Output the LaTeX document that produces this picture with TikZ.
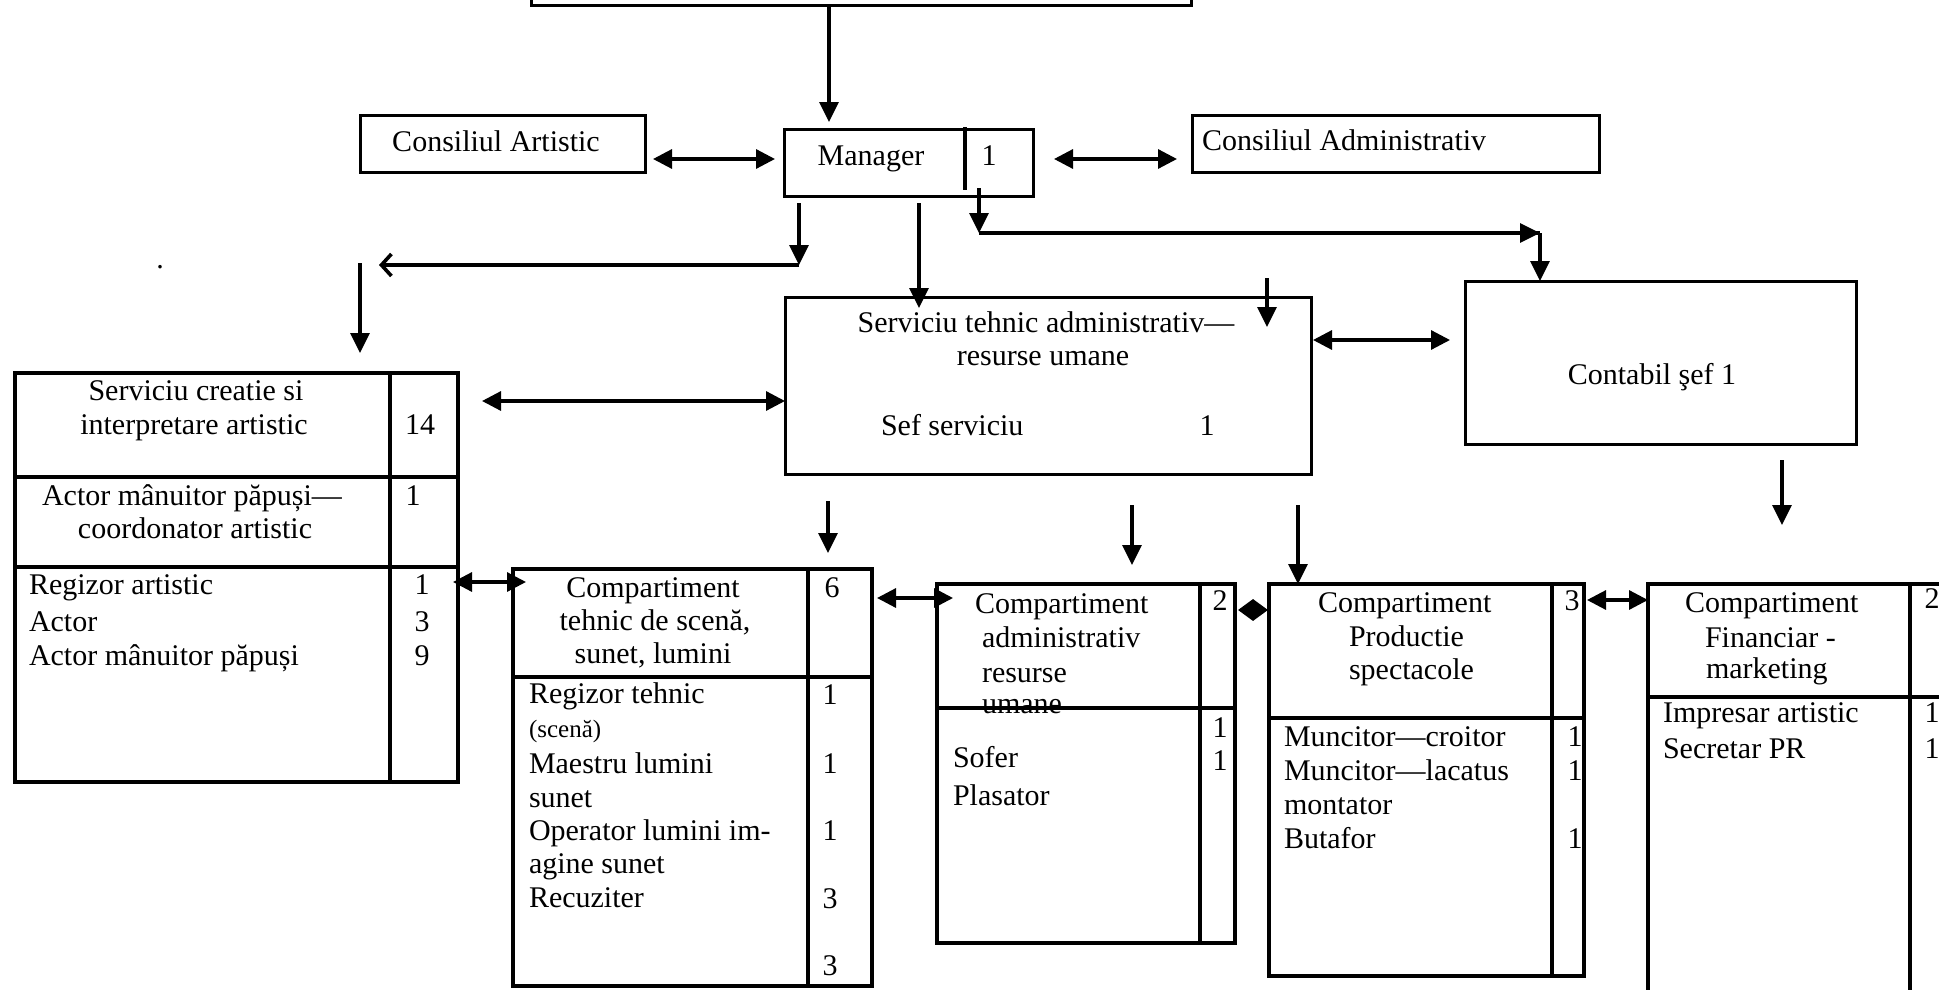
\documentclass[tikz,border=0pt]{standalone}
\usepackage{fontspec}
\setmainfont{Liberation Serif}
\usetikzlibrary{arrows.meta}
\newcommand{\dfont}{\fontsize{30}{34}\selectfont}
\newcommand{\sfont}{\fontsize{25}{28}\selectfont}
\begin{document}
\begin{tikzpicture}[x=1pt,y=-1pt,
  every node/.style={inner sep=0pt, outer sep=0pt},
  box/.style={draw, line width=3pt, rectangle, anchor=north west},
  tbox/.style={draw, line width=4.6pt, rectangle, anchor=north west},
  tline/.style={line width=4.6pt},
  txt/.style={font=\dfont, anchor=base},
  txtl/.style={font=\dfont, anchor=base west},
  conn/.style={line width=3.2pt},
  arr/.style={conn, -{Triangle[length=20pt,width=19pt]}},
  darr/.style={conn, {Triangle[length=19pt,width=19pt]}-{Triangle[length=19pt,width=19pt]}},
  sarr/.style={conn, {Triangle[length=15pt,width=21pt]}-{Triangle[length=15pt,width=21pt]}},
  oarr/.style={line width=3.6pt, -{Straight Barb[length=10pt,width=22pt]}},
]
\useasboundingbox (0,0) rectangle (1939,990);
\clip (0,0) rectangle (1939,990);

% ---------- upper boxes ----------
\node[box, minimum width=660pt, minimum height=60pt, anchor=south west] (top) at (531,6) {};

\node[box, minimum width=285pt, minimum height=57pt] (ca) at (360,115) {};
\node[txt] (catxt) at (496,151) {Consiliul Artistic};

\node[box, minimum width=249pt, minimum height=67pt] (mgr) at (784,129) {};
\node[txt] (mgrtxt) at (871,165) {Manager};
\node[txt] (mgrn) at (989,165) {1};
\coordinate (mdiv1) at (965,127);
\coordinate (mdiv2) at (965,190);
\draw[conn] (mdiv1) -- (mdiv2);

\node[box, minimum width=407pt, minimum height=57pt] (cadm) at (1192,115) {};
\node[txtl] (cadmtxt) at (1202,150) {Consiliul Administrativ};

\node[box, minimum width=526pt, minimum height=177pt] (sta) at (785,297) {};
\node[txt] (sta1) at (1046,332) {Serviciu tehnic administrativ—};
\node[txt] (sta2) at (1043,365) {resurse umane};
\node[txtl] (sta3) at (881,435) {Sef serviciu};
\node[txt] (sta4) at (1207,435) {1};

\node[box, minimum width=391pt, minimum height=163pt] (csef) at (1465,281) {};
\node[txt] (cseftxt) at (1652,384) {Contabil şef 1};

\node[txt] (dot) at (160,268) {.};

% ---------- Serviciu creatie ----------
\node[tbox, minimum width=443pt, minimum height=409pt] (sci) at (15,373) {};
\draw[tline] (390,373) -- (390,782);
\draw[tline] (15,477) -- (458,477);
\draw[tline] (15,567) -- (458,567);
\node[txt] (sci1) at (196,400) {Serviciu creatie si};
\node[txt] (sci2) at (194,434) {interpretare artistic};
\node[txt] (sci3) at (420,434) {14};
\node[txt] (sci4) at (192,505) {Actor mânuitor păpuși—};
\node[txt] (sci5) at (195,538) {coordonator artistic};
\node[txt] (sci6) at (413,505) {1};
\node[txtl] (sci7) at (29,594) {Regizor artistic};
\node[txtl] (sci8) at (29,631) {Actor};
\node[txtl] (sci9) at (29,665) {Actor mânuitor păpuși};
\node[txt] (sci10) at (422,594) {1};
\node[txt] (sci11) at (422,631) {3};
\node[txt] (sci12) at (422,665) {9};

% ---------- Compartiment tehnic ----------
\node[tbox, minimum width=359pt, minimum height=417pt] (cts) at (513,569) {};
\draw[tline] (808,569) -- (808,986);
\draw[tline] (513,677) -- (872,677);
\node[txt] (cts1) at (653,597) {Compartiment};
\node[txt] (cts2) at (655,630) {tehnic de scenă,};
\node[txt] (cts3) at (653,663) {sunet, lumini};
\node[txt] (cts4) at (832,597) {6};
\node[txtl] (cts5) at (529,703) {Regizor tehnic};
\node[anchor=base west, font=\sfont] (cts6) at (529,737) {(scenă)};
\node[txtl] (cts7) at (529,773) {Maestru lumini};
\node[txtl] (cts8) at (529,807) {sunet};
\node[txtl] (cts9) at (529,840) {Operator lumini im-};
\node[txtl] (cts10) at (529,873) {agine sunet};
\node[txtl] (cts11) at (529,907) {Recuziter};
\node[txt] (cts12) at (830,704) {1};
\node[txt] (cts13) at (830,773) {1};
\node[txt] (cts14) at (830,840) {1};
\node[txt] (cts15) at (830,908) {3};
\node[txt] (cts16) at (830,975) {3};

% ---------- Compartiment administrativ ----------
\node[tbox, minimum width=298pt, minimum height=359pt] (car) at (937,584) {};
\draw[tline] (1200,584) -- (1200,943);
\node[txtl] (car1) at (975,613) {Compartiment};
\node[txtl] (car2) at (982,647) {administrativ};
\node[txtl] (car3) at (982,682) {resurse};
\node[txtl] (car4) at (982,713) {umane};
\draw[tline] (937,708) -- (1235,708);
\node[txt] (car5) at (1220,610) {2};
\node[txt] (car6) at (1220,737) {1};
\node[txt] (car7) at (1220,770) {1};
\node[txtl] (car8) at (953,767) {Sofer};
\node[txtl] (car9) at (953,805) {Plasator};

% ---------- Compartiment productie ----------
\node[tbox, minimum width=315pt, minimum height=392pt] (cps) at (1269,584) {};
\draw[tline] (1552,584) -- (1552,976);
\draw[tline] (1269,718) -- (1584,718);
\node[txtl] (cps1) at (1318,612) {Compartiment};
\node[txtl] (cps2) at (1349,646) {Productie};
\node[txtl] (cps3) at (1349,679) {spectacole};
\node[txt] (cps4) at (1572,610) {3};
\node[txtl] (cps5) at (1284,746) {Muncitor—croitor};
\node[txtl] (cps6) at (1284,780) {Muncitor—lacatus};
\node[txtl] (cps7) at (1284,814) {montator};
\node[txtl] (cps8) at (1284,848) {Butafor};
\node[txt] (cps9) at (1575,746) {1};
\node[txt] (cps10) at (1575,780) {1};
\node[txt] (cps11) at (1575,848) {1};

% ---------- Compartiment financiar ----------
\node[tbox, minimum width=400pt, minimum height=500pt] (cfm) at (1648,584) {};
\draw[tline] (1910,584) -- (1910,1084);
\draw[tline] (1648,697) -- (2048,697);
\node[txtl] (cfm1) at (1685,612) {Compartiment};
\node[txtl] (cfm2) at (1705,647) {Financiar -};
\node[txtl] (cfm3) at (1706,678) {marketing};
\node[txt] (cfm4) at (1932,608) {2};
\node[txtl] (cfm5) at (1663,722) {Impresar artistic};
\node[txtl] (cfm6) at (1663,758) {Secretar PR};
\node[txt] (cfm7) at (1932,722) {1};
\node[txt] (cfm8) at (1932,758) {1};

% ---------- connectors ----------
\coordinate (a1e) at (829,122);
\draw[arr] (top.south -| a1e) -- (a1e);

\coordinate (a2s) at (653,159); \coordinate (a2e) at (775,159);
\draw[darr] (a2s) -- (a2e);

\coordinate (a3s) at (1054,159); \coordinate (a3e) at (1177,159);
\draw[darr] (a3s) -- (a3e);

\coordinate (a4s) at (799,203); \coordinate (a4c) at (799,265); \coordinate (a4e) at (379,265);
\draw[arr] (a4s) -- (a4c);
\draw[oarr] (a4c) -- (a4e);

\coordinate (a5s) at (360,263); \coordinate (a5e) at (360,353);
\draw[arr] (a5s) -- (a5e);

\coordinate (a6s) at (919,203); \coordinate (a6e) at (919,308);
\draw[arr] (a6s) -- (a6e);

\coordinate (a7s) at (979,188); \coordinate (a7c) at (979,233); \coordinate (a7d) at (1540,233);
\draw[arr] (a7s) -- (a7c);
\draw[conn] (a7c) -- (a7d);
\draw[arr] (a7c) -- (a7d);
\draw[arr] (a7d) -- (csef.north -| a7d);

\coordinate (a8s) at (1267,278); \coordinate (a8e) at (1267,327);
\draw[arr] (a8s) -- (a8e);

\coordinate (a9s) at (1313,340); \coordinate (a9e) at (1450,340);
\draw[darr] (a9s) -- (a9e);

\coordinate (a10s) at (1782,460); \coordinate (a10e) at (1782,525);
\draw[arr] (a10s) -- (a10e);

\coordinate (a11s) at (482,401);
\draw[darr] (a11s) -- (sta.west |- a11s);

\coordinate (a12s) at (828,501); \coordinate (a12e) at (828,553);
\draw[arr] (a12s) -- (a12e);

\coordinate (a13s) at (1132,505); \coordinate (a13e) at (1132,565);
\draw[arr] (a13s) -- (a13e);

\coordinate (a14s) at (1298,505);
\draw[arr] (a14s) -- (cps.north -| a14s);

\coordinate (a15s) at (453,582); \coordinate (a15e) at (526,582);
\draw[darr] (a15s) -- (a15e);

\coordinate (a16s) at (877,598); \coordinate (a16e) at (953,598);
\draw[darr] (a16s) -- (a16e);

\coordinate (a17s) at (1238,610); \coordinate (a17e) at (1268,610);
\draw[sarr] (a17s) -- (a17e);

\coordinate (a18s) at (1587,600);
\draw[darr] (a18s) -- (cfm.west |- a18s);
\end{tikzpicture}
\end{document}
